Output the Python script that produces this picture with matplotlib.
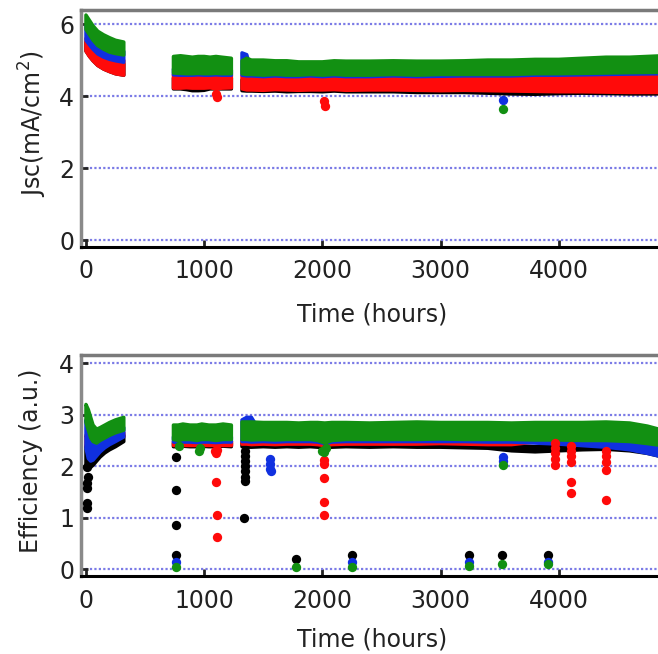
import matplotlib
matplotlib.use('Agg')
import matplotlib.pyplot as plt
import numpy as np

nan = np.nan

# ---------------- Jsc panel (top) ----------------
t_jsc = [0, 30, 60, 100, 150, 200, 250, 320, nan,
         740, 800, 850, 900, 950, 1000, 1050, 1100, 1150, 1230, nan,
         1320, 1360, 1400, 1500, 1600, 1700, 1800, 1900, 2000, 2100, 2200, 2400,
         2600, 2800, 3000, 3200, 3400, 3600, 3800, 4000, 4200, 4400, 4600, 4880]

jsc_green_hi = [6.25, 6.1, 5.95, 5.8, 5.7, 5.62, 5.55, 5.5, nan,
                5.1, 5.12, 5.1, 5.08, 5.1, 5.1, 5.08, 5.1, 5.08, 5.05, nan,
                4.98, 5.05, 5.0, 5.0, 4.98, 4.98, 4.95, 4.95, 4.95, 4.98, 4.97, 4.97,
                4.98, 4.97, 4.97, 4.98, 5.0, 5.0, 5.02, 5.02, 5.05, 5.08, 5.08, 5.12]
jsc_green_lo = [5.85, 5.7, 5.55, 5.4, 5.3, 5.22, 5.18, 5.14, nan,
                4.64, 4.63, 4.62, 4.62, 4.63, 4.62, 4.62, 4.63, 4.62, 4.62, nan,
                4.62, 4.6, 4.6, 4.58, 4.6, 4.58, 4.58, 4.6, 4.58, 4.6, 4.58, 4.58,
                4.6, 4.58, 4.6, 4.6, 4.6, 4.6, 4.62, 4.62, 4.63, 4.64, 4.65, 4.66]
jsc_blue_hi = [5.95, 5.8, 5.65, 5.5, 5.4, 5.32, 5.28, 5.24, nan,
               4.75, 4.73, 4.72, 4.72, 4.73, 4.72, 4.72, 4.73, 4.72, 4.72, nan,
               5.2, 5.15, 4.7, 4.68, 4.7, 4.68, 4.68, 4.7, 4.68, 4.7, 4.68, 4.68,
               4.7, 4.68, 4.7, 4.7, 4.7, 4.7, 4.72, 4.72, 4.73, 4.74, 4.75, 4.76]
jsc_blue_lo = [5.55, 5.42, 5.3, 5.17, 5.08, 5.02, 4.98, 4.94, nan,
               4.59, 4.58, 4.58, 4.58, 4.59, 4.58, 4.58, 4.59, 4.58, 4.58, nan,
               4.58, 4.56, 4.56, 4.54, 4.56, 4.54, 4.54, 4.56, 4.54, 4.56, 4.54, 4.54,
               4.56, 4.54, 4.55, 4.56, 4.56, 4.56, 4.58, 4.58, 4.59, 4.6, 4.61, 4.62]
jsc_red_hi = [5.6, 5.47, 5.35, 5.22, 5.13, 5.07, 5.03, 4.99, nan,
              4.6, 4.6, 4.6, 4.6, 4.6, 4.6, 4.6, 4.6, 4.6, 4.6, nan,
              4.57, 4.55, 4.55, 4.53, 4.55, 4.53, 4.53, 4.55, 4.53, 4.55, 4.53, 4.53,
              4.55, 4.53, 4.54, 4.55, 4.55, 4.55, 4.57, 4.57, 4.58, 4.59, 4.6, 4.61]
jsc_red_lo = [5.25, 5.1, 4.98, 4.85, 4.75, 4.68, 4.62, 4.58, nan,
              4.22, 4.22, 4.23, 4.22, 4.22, 4.22, 4.23, 4.2, 4.22, 4.23, nan,
              4.2, 4.17, 4.17, 4.16, 4.18, 4.17, 4.16, 4.17, 4.17, 4.18, 4.16, 4.17,
              4.17, 4.16, 4.15, 4.16, 4.15, 4.14, 4.13, 4.12, 4.12, 4.11, 4.1, 4.1]
jsc_black_hi = [5.5, 5.4, 5.3, 5.15, 5.05, 5.0, 4.95, 4.9, nan,
                4.5, 4.5, 4.5, 4.5, 4.5, 4.5, 4.5, 4.5, 4.5, 4.5, nan,
                4.45, 4.45, 4.45, 4.45, 4.45, 4.45, 4.45, 4.45, 4.45, 4.45, 4.45, 4.45,
                4.45, 4.45, 4.45, 4.45, 4.45, 4.45, 4.47, 4.47, 4.48, 4.49, 4.5, 4.5]
jsc_black_lo = [5.25, 5.1, 4.98, 4.85, 4.75, 4.68, 4.62, 4.58, nan,
                4.2, 4.2, 4.18, 4.15, 4.15, 4.16, 4.2, 4.2, 4.2, 4.2, nan,
                4.15, 4.14, 4.14, 4.13, 4.14, 4.12, 4.13, 4.13, 4.12, 4.14, 4.12, 4.12,
                4.12, 4.1, 4.1, 4.1, 4.08, 4.06, 4.05, 4.07, 4.08, 4.07, 4.06, 4.06]

# isolated Jsc points
jsc_red_pts_t = [1100, 1110, 2015, 2020]
jsc_red_pts_v = [4.05, 3.97, 3.85, 3.72]
jsc_blue_pts_t = [3528]
jsc_blue_pts_v = [3.88]
jsc_green_pts_t = [3528]
jsc_green_pts_v = [3.65]

# ---------------- Efficiency panel (bottom) ----------------
t_eff = [0, 20, 40, 60, 90, 120, 160, 200, 250, 320, nan,
         740, 780, 820, 880, 940, 980, 1040, 1100, 1160, 1230, nan,
         1320, 1360, 1400, 1500, 1600, 1700, 1800, 1900, 1960, 2020, 2080, 2200, 2400,
         2600, 2800, 3000, 3200, 3400, 3600, 3800, 4000, 4200, 4400, 4600, 4750, 4880]

eff_green_hi = [3.2, 3.1, 2.95, 2.8, 2.72, 2.75, 2.8, 2.85, 2.9, 2.95, nan,
                2.8, 2.8, 2.82, 2.8, 2.8, 2.82, 2.8, 2.8, 2.82, 2.8, nan,
                2.86, 2.86, 2.86, 2.85, 2.85, 2.85, 2.84, 2.85, 2.85, 2.84, 2.85, 2.85, 2.84,
                2.85, 2.86, 2.85, 2.85, 2.85, 2.84, 2.85, 2.85, 2.85, 2.86, 2.84, 2.78, 2.7]
eff_green_lo = [2.85, 2.7, 2.55, 2.48, 2.45, 2.5, 2.55, 2.6, 2.65, 2.7, nan,
                2.52, 2.5, 2.52, 2.52, 2.5, 2.52, 2.52, 2.5, 2.52, 2.52, nan,
                2.52, 2.52, 2.51, 2.52, 2.51, 2.52, 2.52, 2.52, 2.5, 2.45, 2.5, 2.52, 2.52,
                2.52, 2.52, 2.53, 2.52, 2.52, 2.52, 2.51, 2.51, 2.5, 2.5, 2.48, 2.44, 2.4]
eff_blue_hi = [2.9, 2.75, 2.6, 2.53, 2.5, 2.55, 2.6, 2.65, 2.7, 2.75, nan,
               2.57, 2.55, 2.57, 2.57, 2.55, 2.57, 2.57, 2.55, 2.57, 2.57, nan,
               2.9, 2.95, 2.95, 2.57, 2.56, 2.57, 2.57, 2.57, 2.55, 2.5, 2.55, 2.57, 2.57,
               2.57, 2.57, 2.58, 2.57, 2.57, 2.57, 2.56, 2.56, 2.55, 2.55, 2.53, 2.49, 2.45]
eff_blue_lo = [2.35, 2.15, 2.1, 2.12, 2.2, 2.28, 2.36, 2.42, 2.48, 2.57, nan,
               2.47, 2.46, 2.47, 2.47, 2.46, 2.47, 2.47, 2.46, 2.47, 2.47, nan,
               2.48, 2.48, 2.47, 2.48, 2.47, 2.48, 2.48, 2.48, 2.47, 2.44, 2.47, 2.48, 2.48,
               2.48, 2.48, 2.48, 2.48, 2.47, 2.47, 2.45, 2.43, 2.4, 2.37, 2.32, 2.25, 2.18]
eff_red_hi = [2.6, 2.5, 2.45, 2.45, 2.45, 2.48, 2.52, 2.56, 2.6, 2.65, nan,
              2.5, 2.5, 2.5, 2.5, 2.5, 2.5, 2.5, 2.5, 2.5, 2.5, nan,
              2.5, 2.5, 2.5, 2.5, 2.5, 2.5, 2.5, 2.5, 2.5, 2.48, 2.5, 2.5, 2.5,
              2.5, 2.5, 2.5, 2.5, 2.5, 2.5, 2.48, 2.46, 2.43, 2.4, 2.36, 2.3, 2.24]
eff_red_lo = [2.4, 2.25, 2.2, 2.2, 2.25, 2.32, 2.4, 2.45, 2.5, 2.58, nan,
              2.42, 2.42, 2.42, 2.42, 2.42, 2.42, 2.42, 2.42, 2.42, 2.42, nan,
              2.43, 2.43, 2.42, 2.43, 2.42, 2.43, 2.43, 2.43, 2.42, 2.4, 2.42, 2.43, 2.43,
              2.43, 2.43, 2.44, 2.43, 2.42, 2.42, 2.47, 2.45, 2.42, 2.39, 2.34, 2.28, 2.21]
eff_black_hi = [2.4, 2.3, 2.25, 2.25, 2.3, 2.36, 2.42, 2.48, 2.53, 2.6, nan,
                2.45, 2.45, 2.45, 2.45, 2.45, 2.45, 2.45, 2.45, 2.45, 2.45, nan,
                2.45, 2.45, 2.45, 2.45, 2.45, 2.45, 2.45, 2.45, 2.45, 2.43, 2.45, 2.45, 2.45,
                2.45, 2.45, 2.45, 2.45, 2.45, 2.4, 2.38, 2.4, 2.4, 2.37, 2.33, 2.27, 2.2]
eff_black_lo = [2.0, 1.97, 1.98, 2.02, 2.1, 2.18, 2.26, 2.32, 2.38, 2.48, nan,
                2.38, 2.38, 2.39, 2.38, 2.38, 2.39, 2.38, 2.38, 2.39, 2.38, nan,
                2.38, 2.37, 2.37, 2.38, 2.37, 2.38, 2.37, 2.38, 2.37, 2.36, 2.37, 2.38, 2.37,
                2.38, 2.37, 2.37, 2.36, 2.35, 2.3, 2.28, 2.3, 2.32, 2.33, 2.3, 2.25, 2.18]

# isolated efficiency points
eff_black_pts_t = [10, 15, 10, 12, 8, 10,
                   758, 758, 758, 758,
                   1345, 1345, 1345, 1345, 1345, 1345, 1345, 1335,
                   1780, 2250, 3240, 3520, 3910]
eff_black_pts_v = [1.99, 1.8, 1.67, 1.57, 1.29, 1.19,
                   2.18, 1.54, 0.86, 0.28,
                   2.3, 2.2, 2.1, 2.0, 1.9, 1.8, 1.72, 1.0,
                   0.2, 0.28, 0.28, 0.28, 0.28]
eff_red_pts_t = [1090, 1110, 1100, 1100, 1105, 1110,
                 2015, 2015, 2015, 2010, 2015,
                 3970, 3970, 3970, 3970, 3970,
                 4100, 4100, 4100, 4100, 4100, 4100,
                 4400, 4400, 4400, 4400, 4400]
eff_red_pts_v = [2.3, 2.32, 2.25, 1.7, 1.05, 0.63,
                 2.12, 2.05, 1.78, 1.31, 1.06,
                 2.45, 2.35, 2.25, 2.15, 2.03,
                 2.4, 2.3, 2.2, 2.08, 1.7, 1.48,
                 2.3, 2.2, 2.08, 1.93, 1.35]
eff_blue_pts_t = [758, 1560, 1560, 1560, 1565, 2250, 3240, 3530, 3530, 3910]
eff_blue_pts_v = [0.15, 2.15, 2.05, 1.95, 1.9, 0.15, 0.15, 2.18, 2.1, 0.15]
eff_green_pts_t = [790, 960, 965, 2000, 2015, 2030, 758, 1780, 2250, 3240, 3520, 3530, 3910]
eff_green_pts_v = [2.4, 2.3, 2.35, 2.3, 2.27, 2.35, 0.05, 0.05, 0.05, 0.07, 0.1, 2.03, 0.1]

BLACK = '#000000'
RED = '#ff0a0a'
BLUE = '#1030e0'
GREEN = '#129012'
GRID = '#7b7be6'

W, H = 658, 654
AX_LEFT, AX_RIGHT = 81, 664


def draw_band(ax, t, lo, hi, color):
    ax.fill_between(t, lo, hi, facecolor=color, edgecolor=color, lw=2.5,
                    joinstyle='round', zorder=2)


def draw_points(ax, t, v, color):
    ax.scatter(t, v, s=45, c=color, lw=0, zorder=3)


def style_axes(ax, yticks, ylim, ylabel, ylabel_x):
    ax.set_xlim(-42, 4890)
    ax.set_ylim(*ylim)
    ax.set_xticks([0, 1000, 2000, 3000, 4000])
    ax.set_yticks(yticks)
    ax.yaxis.grid(True, linestyle=(0, (1, 1)), color=GRID, lw=1.6)
    ax.set_axisbelow(True)
    ax.tick_params(direction='in', length=5, width=2, labelsize=17,
                   top=False, right=False, colors='#222222')
    ax.tick_params(axis='x', pad=9)
    ax.tick_params(axis='y', pad=5)
    ax.spines['top'].set_color('#7a7a7a')
    ax.spines['top'].set_linewidth(2.5)
    ax.spines['left'].set_color('#8a8a8a')
    ax.spines['left'].set_linewidth(2.5)
    ax.spines['bottom'].set_color('black')
    ax.spines['bottom'].set_linewidth(2.2)
    ax.spines['right'].set_visible(False)
    ax.set_xlabel('Time (hours)', fontsize=17, color='#222222')
    ax.xaxis.set_label_coords(0.5, -0.235)
    ax.xaxis.label.set_va('top')
    ax.set_ylabel(ylabel, fontsize=17, color='#222222')
    ax.yaxis.set_label_coords(ylabel_x, 0.52)


fig = plt.figure(figsize=(W / 100, H / 100), dpi=100)

ax1 = fig.add_axes([AX_LEFT / W, (H - 247) / H, (AX_RIGHT - AX_LEFT) / W, 237 / H])
draw_band(ax1, t_jsc, jsc_black_lo, jsc_black_hi, BLACK)
draw_band(ax1, t_jsc, jsc_red_lo, jsc_red_hi, RED)
draw_band(ax1, t_jsc, jsc_blue_lo, jsc_blue_hi, BLUE)
draw_band(ax1, t_jsc, jsc_green_lo, jsc_green_hi, GREEN)
draw_points(ax1, jsc_red_pts_t, jsc_red_pts_v, RED)
draw_points(ax1, jsc_blue_pts_t, jsc_blue_pts_v, BLUE)
draw_points(ax1, jsc_green_pts_t, jsc_green_pts_v, GREEN)
style_axes(ax1, [0, 2, 4, 6], (-0.19, 6.39), 'Jsc(mA/cm$^2$)', -0.055)

ax2 = fig.add_axes([AX_LEFT / W, (H - 576) / H, (AX_RIGHT - AX_LEFT) / W, 221 / H])
draw_band(ax2, t_eff, eff_black_lo, eff_black_hi, BLACK)
draw_band(ax2, t_eff, eff_red_lo, eff_red_hi, RED)
draw_band(ax2, t_eff, eff_blue_lo, eff_blue_hi, BLUE)
draw_band(ax2, t_eff, eff_green_lo, eff_green_hi, GREEN)
draw_points(ax2, eff_black_pts_t, eff_black_pts_v, BLACK)
draw_points(ax2, eff_red_pts_t, eff_red_pts_v, RED)
draw_points(ax2, eff_blue_pts_t, eff_blue_pts_v, BLUE)
draw_points(ax2, eff_green_pts_t, eff_green_pts_v, GREEN)
style_axes(ax2, [0, 1, 2, 3, 4], (-0.13, 4.16), 'Efficiency (a.u.)', -0.065)

fig.savefig('out.png', dpi=100)
